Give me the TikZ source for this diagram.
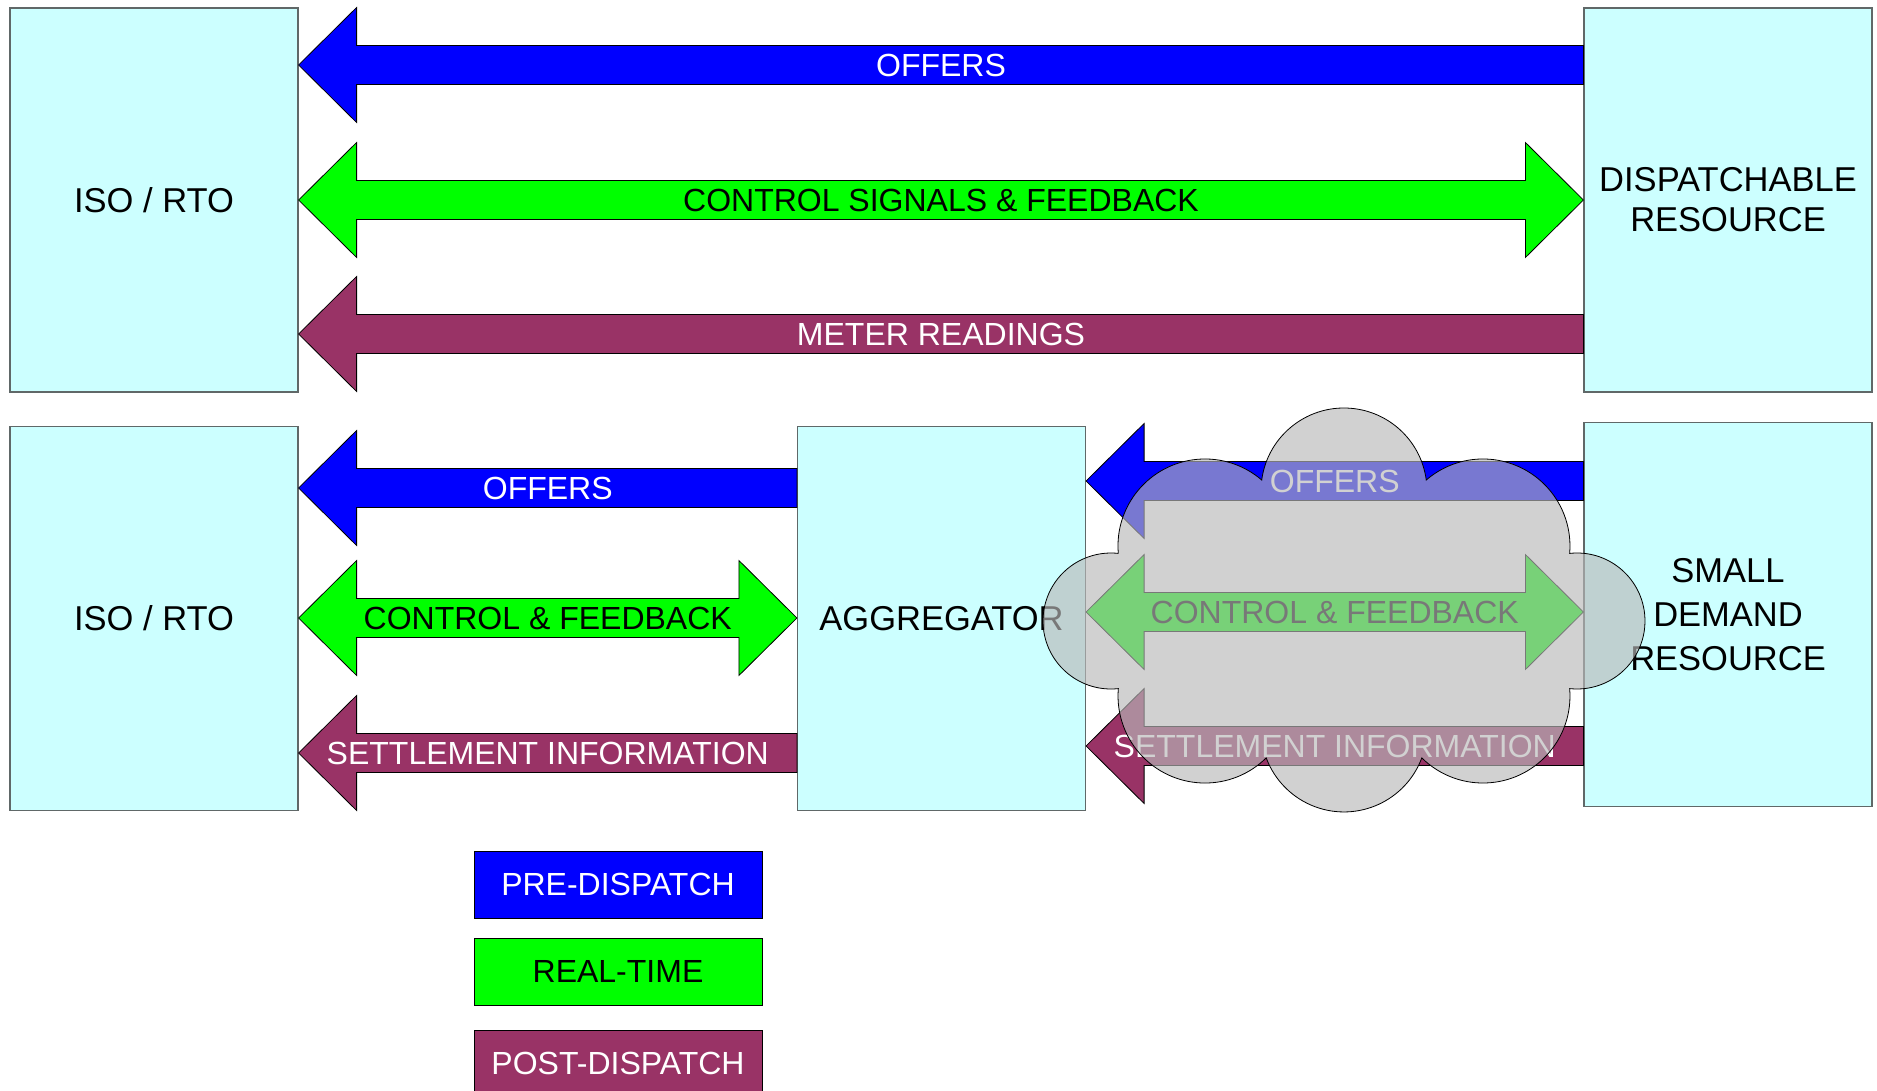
\documentclass[tikz,border=0pt]{standalone}
\usepackage{fontspec}
\setmainfont{Liberation Sans}
\usetikzlibrary{calc,positioning}

\definecolor{boxcyan}{RGB}{204,255,255}
\definecolor{boxline}{RGB}{96,104,104}
\definecolor{preblue}{RGB}{0,0,255}
\definecolor{rtgreen}{RGB}{0,255,0}
\definecolor{postred}{RGB}{153,51,102}
\definecolor{cloudgray}{RGB}{185,185,185}

\tikzset{
  party/.style={draw=boxline, line width=1.2pt, fill=boxcyan, minimum width=288pt, minimum height=384pt, align=center, font=\fontsize{34.5}{40}\selectfont},
  prearrow/.style={fill=preblue, draw=black, line width=0.8pt},
  rtarrow/.style={fill=rtgreen, draw=black, line width=0.8pt},
  postarrow/.style={fill=postred, draw=black, line width=0.8pt},
  prearrow text/.style={text=white},
  rtarrow text/.style={text=black},
  postarrow text/.style={text=white},
  lbl/.style={font=\fontsize{32}{38}\selectfont, inner sep=0pt},
  key/.style={minimum width=288pt, minimum height=67pt, draw=black, line width=1pt, font=\fontsize{32}{38}\selectfont},
  fog/.style={draw=black, line width=0.8pt, fill=cloudgray, fill opacity=0.65},
}

% block arrow pointing left: style, head node, tail node, height, label
\newcommand{\onearrow}[5]{%
  \coordinate (tip) at (#2.east |- 0,#4);
  \coordinate (tail) at (#3.west |- 0,#4);
  \filldraw[#1] (tip) -- ($(tip)+(58,-57.5)$) -- ($(tip)+(58,-19.5)$) -- ($(tail)+(0,-19.5)$)
    -- ($(tail)+(0,19.5)$) -- ($(tip)+(58,19.5)$) -- ($(tip)+(58,57.5)$) -- cycle;
  \node[lbl, #1 text] at ($(tip)!0.5!(tail)$) {#5};
}
% block arrow with two heads
\newcommand{\twoarrow}[5]{%
  \coordinate (tip) at (#2.east |- 0,#4);
  \coordinate (tail) at (#3.west |- 0,#4);
  \filldraw[#1] (tip) -- ($(tip)+(58,-57.5)$) -- ($(tip)+(58,-19.5)$) -- ($(tail)+(-58,-19.5)$)
    -- ($(tail)+(-58,-57.5)$) -- (tail) -- ($(tail)+(-58,57.5)$) -- ($(tail)+(-58,19.5)$)
    -- ($(tip)+(58,19.5)$) -- ($(tip)+(58,57.5)$) -- cycle;
  \node[lbl, #1 text] at ($(tip)!0.5!(tail)$) {#5};
}

\begin{document}
\begin{tikzpicture}[x=1pt, y=-1pt]
\useasboundingbox (0,0) rectangle (1877,1091);

\node[party] (iso) at (154,200) {ISO / RTO};
\node[party] (dispatch) at (1728,200) {DISPATCHABLE\\RESOURCE};

\node[party] (iso2) at (154,618.5) {ISO / RTO};
\node[party] (agg) at (941.5,618.5) {AGGREGATOR};
\node[party, font=\fontsize{34.5}{44}\selectfont] (small) at (1728,614.5) {SMALL\\DEMAND\\RESOURCE};

\onearrow{prearrow}{iso}{dispatch}{65}{OFFERS}
\twoarrow{rtarrow}{iso}{dispatch}{200}{CONTROL SIGNALS \& FEEDBACK}
\onearrow{postarrow}{iso}{dispatch}{334}{METER READINGS}

\onearrow{prearrow}{iso2}{agg}{488}{OFFERS}
\twoarrow{rtarrow}{iso2}{agg}{618}{CONTROL \& FEEDBACK}
\onearrow{postarrow}{iso2}{agg}{753}{SETTLEMENT INFORMATION}

\onearrow{prearrow}{agg}{small}{481}{OFFERS}
\twoarrow{rtarrow}{agg}{small}{612}{CONTROL \& FEEDBACK}
\onearrow{postarrow}{agg}{small}{746}{SETTLEMENT INFORMATION}

\draw[fog] (1118.3,553.4)
  arc[start angle=175.1, end angle=310.7, radius=87]
  arc[start angle=187.6, end angle=352.4, radius=83]
  arc[start angle=229.3, end angle=364.9, radius=87]
  arc[start angle=263.8, end angle=456.2, radius=68]
  arc[start angle=-4.9, end angle=134.7, radius=87]
  arc[start angle=20.4, end angle=159.6, radius=83]
  arc[start angle=45.3, end angle=184.9, radius=87]
  arc[start angle=83.8, end angle=276.2, radius=68] -- cycle;

\node[key, fill=preblue, text=white] (prekey) at (618,884.5) {PRE-DISPATCH};
\node[key, fill=rtgreen, below=19pt of prekey] (rtkey) {REAL-TIME};
\node[key, fill=postred, text=white, below=24pt of rtkey] (postkey) {POST-DISPATCH};

\end{tikzpicture}
\end{document}
